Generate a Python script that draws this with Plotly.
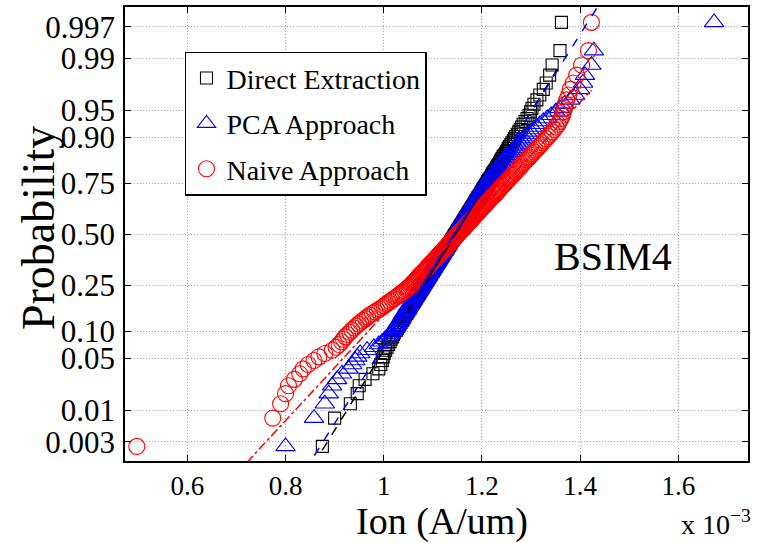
from statistics import NormalDist
import numpy as np
import plotly.graph_objects as go

# ---------------- data (Ion in units of 1e-3 A/um) ----------------
direct_extraction = [
    0.875, 0.900, 0.932, 0.946, 0.950, 0.962, 0.978, 0.990, 0.994, 0.997,
    0.999, 1.001, 1.004, 1.007, 1.010, 1.013, 1.015, 1.018, 1.020, 1.022,
    1.026, 1.028, 1.031, 1.033, 1.035, 1.038, 1.040, 1.042, 1.044, 1.047,
    1.049, 1.051, 1.053, 1.054, 1.056, 1.058, 1.060, 1.062, 1.063, 1.065,
    1.067, 1.069, 1.070, 1.072, 1.073, 1.075, 1.077, 1.078, 1.080, 1.081,
    1.083, 1.084, 1.086, 1.087, 1.089, 1.090, 1.091, 1.093, 1.094, 1.095,
    1.097, 1.098, 1.100, 1.101, 1.102, 1.104, 1.105, 1.106, 1.107, 1.109,
    1.110, 1.111, 1.113, 1.114, 1.115, 1.116, 1.118, 1.119, 1.120, 1.121,
    1.123, 1.124, 1.125, 1.126, 1.127, 1.129, 1.130, 1.131, 1.132, 1.133,
    1.135, 1.136, 1.137, 1.138, 1.139, 1.141, 1.142, 1.143, 1.144, 1.145,
    1.147, 1.148, 1.149, 1.150, 1.151, 1.153, 1.154, 1.155, 1.156, 1.157,
    1.159, 1.160, 1.161, 1.162, 1.163, 1.165, 1.166, 1.167, 1.168, 1.169,
    1.171, 1.172, 1.173, 1.174, 1.176, 1.177, 1.178, 1.179, 1.181, 1.182,
    1.183, 1.185, 1.186, 1.187, 1.188, 1.190, 1.191, 1.192, 1.194, 1.195,
    1.197, 1.198, 1.199, 1.201, 1.202, 1.203, 1.205, 1.206, 1.208, 1.209,
    1.211, 1.212, 1.214, 1.215, 1.217, 1.219, 1.220, 1.222, 1.223, 1.225,
    1.227, 1.229, 1.230, 1.232, 1.234, 1.236, 1.238, 1.239, 1.241, 1.243,
    1.245, 1.248, 1.250, 1.252, 1.254, 1.256, 1.259, 1.261, 1.264, 1.266,
    1.269, 1.272, 1.275, 1.278, 1.281, 1.284, 1.288, 1.292, 1.296, 1.299,
    1.302, 1.306, 1.312, 1.318, 1.325, 1.331, 1.338, 1.343, 1.359, 1.362,
]

pca_approach = [
    0.800, 0.858, 0.880, 0.888, 0.895, 0.905, 0.915, 0.928, 0.936, 0.942,
    0.946, 0.952, 0.966, 0.980, 0.990, 0.997, 1.003, 1.008, 1.012, 1.016,
    1.020, 1.023, 1.025, 1.028, 1.030, 1.033, 1.035, 1.037, 1.039, 1.041,
    1.043, 1.046, 1.048, 1.049, 1.051, 1.053, 1.055, 1.057, 1.059, 1.060,
    1.062, 1.064, 1.066, 1.067, 1.069, 1.071, 1.072, 1.074, 1.075, 1.077,
    1.078, 1.080, 1.081, 1.083, 1.084, 1.086, 1.087, 1.089, 1.090, 1.091,
    1.093, 1.094, 1.096, 1.097, 1.098, 1.100, 1.101, 1.102, 1.104, 1.105,
    1.106, 1.108, 1.109, 1.110, 1.111, 1.113, 1.114, 1.115, 1.117, 1.118,
    1.119, 1.120, 1.122, 1.123, 1.124, 1.125, 1.127, 1.128, 1.129, 1.130,
    1.131, 1.133, 1.134, 1.135, 1.136, 1.138, 1.139, 1.140, 1.141, 1.142,
    1.144, 1.145, 1.146, 1.147, 1.148, 1.150, 1.151, 1.152, 1.153, 1.155,
    1.156, 1.157, 1.158, 1.159, 1.161, 1.162, 1.163, 1.164, 1.166, 1.167,
    1.168, 1.169, 1.171, 1.172, 1.173, 1.175, 1.176, 1.177, 1.179, 1.180,
    1.181, 1.182, 1.184, 1.185, 1.186, 1.188, 1.189, 1.190, 1.192, 1.193,
    1.195, 1.196, 1.197, 1.199, 1.200, 1.202, 1.203, 1.205, 1.206, 1.208,
    1.209, 1.211, 1.212, 1.214, 1.216, 1.217, 1.219, 1.221, 1.223, 1.225,
    1.227, 1.229, 1.231, 1.234, 1.236, 1.239, 1.241, 1.244, 1.247, 1.250,
    1.253, 1.256, 1.259, 1.262, 1.266, 1.269, 1.273, 1.277, 1.281, 1.285,
    1.290, 1.295, 1.300, 1.306, 1.312, 1.318, 1.325, 1.333, 1.341, 1.350,
    1.358, 1.368, 1.380, 1.390, 1.400, 1.406, 1.410, 1.423, 1.428, 1.673,
]

naive_approach = [
    0.497, 0.774, 0.790, 0.800, 0.806, 0.818, 0.829, 0.836, 0.846, 0.858,
    0.868, 0.880, 0.895, 0.903, 0.909, 0.914, 0.918, 0.922, 0.926, 0.931,
    0.935, 0.940, 0.944, 0.949, 0.953, 0.958, 0.963, 0.967, 0.972, 0.977,
    0.982, 0.987, 0.992, 0.997, 1.001, 1.005, 1.009, 1.013, 1.017, 1.021,
    1.025, 1.029, 1.032, 1.036, 1.039, 1.042, 1.045, 1.048, 1.051, 1.054,
    1.056, 1.058, 1.061, 1.063, 1.065, 1.067, 1.069, 1.071, 1.073, 1.075,
    1.077, 1.080, 1.082, 1.084, 1.086, 1.088, 1.090, 1.091, 1.093, 1.095,
    1.097, 1.099, 1.101, 1.103, 1.105, 1.107, 1.109, 1.110, 1.112, 1.114,
    1.116, 1.118, 1.120, 1.121, 1.123, 1.125, 1.127, 1.129, 1.130, 1.132,
    1.134, 1.136, 1.138, 1.139, 1.141, 1.143, 1.145, 1.147, 1.148, 1.150,
    1.152, 1.154, 1.155, 1.157, 1.159, 1.161, 1.163, 1.164, 1.166, 1.168,
    1.170, 1.172, 1.173, 1.175, 1.177, 1.179, 1.181, 1.182, 1.184, 1.186,
    1.188, 1.190, 1.192, 1.193, 1.195, 1.197, 1.199, 1.201, 1.203, 1.205,
    1.207, 1.209, 1.211, 1.212, 1.214, 1.216, 1.218, 1.220, 1.222, 1.225,
    1.227, 1.229, 1.231, 1.233, 1.235, 1.237, 1.239, 1.241, 1.243, 1.246,
    1.248, 1.250, 1.252, 1.255, 1.257, 1.259, 1.262, 1.264, 1.267, 1.269,
    1.272, 1.274, 1.277, 1.280, 1.282, 1.285, 1.288, 1.291, 1.294, 1.297,
    1.300, 1.303, 1.306, 1.309, 1.313, 1.316, 1.320, 1.323, 1.327, 1.331,
    1.335, 1.339, 1.343, 1.347, 1.351, 1.355, 1.358, 1.361, 1.364, 1.366,
    1.368, 1.370, 1.373, 1.377, 1.380, 1.386, 1.393, 1.403, 1.417, 1.423,
]

series_names = ["Direct Extraction", "PCA Approach", "Naive Approach"]
prob_ticks = [0.003, 0.01, 0.05, 0.10, 0.25, 0.50, 0.75, 0.90, 0.95, 0.99, 0.997]
prob_labels = ["0.003", "0.01", "0.05", "0.10", "0.25", "0.50", "0.75",
               "0.90", "0.95", "0.99", "0.997"]
x_ticks = [0.6, 0.8, 1.0, 1.2, 1.4, 1.6]
x_labels = ["0.6", "0.8", "1", "1.2", "1.4", "1.6"]

# ---------------- normal probability plot helpers ----------------
nd = NormalDist()


def plotting_positions(values):
    xs = np.sort(np.asarray(values, dtype=float))
    n = len(xs)
    p = (np.arange(1, n + 1) - 0.5) / n
    z = np.array([nd.inv_cdf(v) for v in p])
    return xs, z, p


def reference_line(xs, p):
    pct = p * 100.0
    q1 = float(np.interp(25, pct, xs))
    q3 = float(np.interp(75, pct, xs))
    z1, z3 = nd.inv_cdf(0.25), nd.inv_cdf(0.75)
    slope = (z3 - z1) / (q3 - q1)
    zf = lambda x: z1 + slope * (x - q1)
    xmin, xmax = float(xs.min()), float(xs.max())
    ext_x = [xmin, q1, None, q3, xmax]
    ext_z = [zf(xmin), zf(q1), None, zf(q3), zf(xmax)]
    mid_x = [q1, q3]
    mid_z = [zf(q1), zf(q3)]
    return ext_x, ext_z, mid_x, mid_z


styles = [
    dict(color="#000000", symbol="square-open", size=12, dash="dash"),
    dict(color="#0000ff", symbol="triangle-up-open", size=17, dash="dash"),
    dict(color="#ff0000", symbol="circle-open", size=16, dash="dashdot"),
]
datasets = [direct_extraction, pca_approach, naive_approach]

FONT = "Liberation Serif"

fig = go.Figure()
lines = []
for k, (name, vals, st) in enumerate(zip(series_names, datasets, styles)):
    xs, z, p = plotting_positions(vals)
    fig.add_trace(go.Scatter(
        x=xs, y=z, mode="markers", name=name,
        legendgroup=name,
        marker=dict(symbol=st["symbol"], size=st["size"], color=st["color"],
                    line=dict(color=st["color"], width=1.1)),
    ))
    lines.append((reference_line(xs, p), st))

for (ext_x, ext_z, mid_x, mid_z), st in lines:
    fig.add_trace(go.Scatter(x=ext_x, y=ext_z, mode="lines", showlegend=False,
                             hoverinfo="skip",
                             line=dict(color=st["color"], width=1.5, dash=st["dash"])))
    fig.add_trace(go.Scatter(x=mid_x, y=mid_z, mode="lines", showlegend=False,
                             hoverinfo="skip",
                             line=dict(color=st["color"], width=1.5)))

y_tickvals = [nd.inv_cdf(v) for v in prob_ticks]

axis_common = dict(
    showline=True, linecolor="black", linewidth=1.5, mirror="ticks",
    ticks="inside", ticklen=6, tickcolor="black", tickwidth=1,
    showgrid=True, gridcolor="#a8a8a8", gridwidth=1, griddash="1px,2px",
    zeroline=False,
)

fig.update_layout(
    width=758, height=543,
    margin=dict(l=125, r=10, t=5, b=82),
    paper_bgcolor="white", plot_bgcolor="white",
    font=dict(family=FONT, color="black"),
    xaxis=dict(
        range=[0.473, 1.742], tickmode="array", tickvals=x_ticks, ticktext=x_labels,
        tickfont=dict(family=FONT, size=27, color="black"),
        **axis_common,
    ),
    yaxis=dict(
        range=[-3.0, 3.01], tickmode="array", tickvals=y_tickvals, ticktext=prob_labels,
        tickfont=dict(family=FONT, size=31, color="black"),
        ticklabelstandoff=2,
        **axis_common,
    ),
    legend=dict(
        x=0.0963, y=0.9013, xanchor="left", yanchor="top",
        bgcolor="white", bordercolor="black", borderwidth=1.5,
        font=dict(family=FONT, size=28, color="black"),
        traceorder="grouped", tracegroupgap=6, itemwidth=30,
    ),
    showlegend=True,
    annotations=[
        # axis titles
        dict(text="Ion (A/um)", xref="paper", yref="paper", x=0.5088, y=-0.134,
             xanchor="center", yanchor="middle", showarrow=False,
             font=dict(family=FONT, size=38, color="black")),
        dict(text="Probability", xref="paper", yref="paper", x=-0.1388, y=0.512,
             xanchor="center", yanchor="middle", textangle=-90, showarrow=False,
             font=dict(family=FONT, size=46, color="black")),
        # in-plot label and exponent
        dict(text="BSIM4", xref="paper", yref="paper", x=0.784, y=0.4496,
             xanchor="center", yanchor="middle", showarrow=False,
             font=dict(family=FONT, size=40, color="black")),
        dict(text="x 10<sup>\u22123</sup>", xref="paper", yref="paper",
             x=1.008, y=-0.178, xanchor="right", yanchor="bottom", showarrow=False,
             font=dict(family=FONT, size=28, color="black")),
    ],
)

fig.write_html("out.html")
